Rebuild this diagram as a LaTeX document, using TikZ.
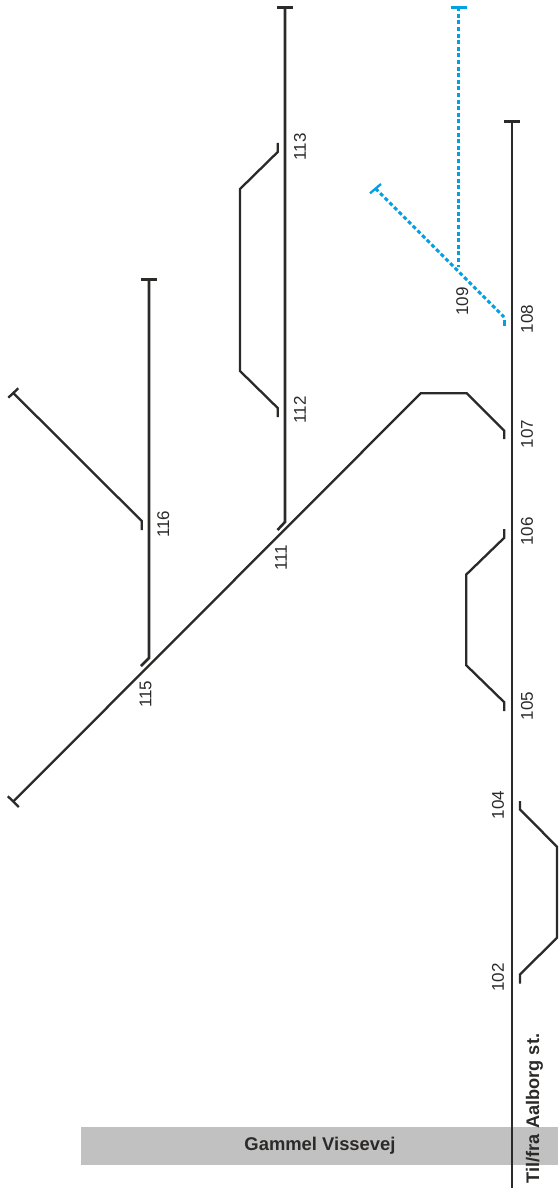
\documentclass[tikz,border=0pt]{standalone}
\usepackage{fontspec}
\setmainfont{Liberation Sans}
\definecolor{ink}{HTML}{2B2A29}
\definecolor{rail}{HTML}{00A0E3}
\definecolor{road}{HTML}{C1C1C1}
\tikzset{
  track/.style={draw=ink,line width=2.3pt,line join=miter},
  mainline/.style={draw=ink,line width=2.6pt},
  endtick/.style={draw=ink,line width=3pt},
  plannedtrack/.style={draw=rail,line width=3pt,dash pattern=on 4pt off 2.6pt},
  plannedsolid/.style={draw=rail,line width=3pt},
  lab/.style={rotate=90,text=ink,font=\fontsize{17}{17}\selectfont,inner sep=0pt,anchor=center},
  boldlab/.style={rotate=90,text=ink,font=\fontsize{18.2}{18.2}\selectfont\bfseries,inner sep=0pt,anchor=center},
}
\begin{document}
\begin{tikzpicture}[x=1pt,y=-1pt]
\useasboundingbox (0,0) rectangle (558,1190);
% road
\fill[road] (81,1127) rectangle (558,1165);
\node[text=ink,font=\fontsize{18.4}{18.4}\selectfont\bfseries,inner sep=0pt] (road) at (320,1146) {Gammel Vissevej};
% main line
\draw[mainline] (512,122) -- (512,1188);
\draw[endtick] (504,122) -- (520,122);
% 102-104 loop
\draw[track] (520,801) -- (520,809.5) -- (557,846.7) -- (557,937.7) -- (520,974.5) -- (520,983.5);
% 105-106 loop
\draw[track] (504.3,529) -- (504.3,537.7) -- (466.3,574.5) -- (466.3,665.3) -- (504.3,702.3) -- (504.3,711);
% long diagonal with 107
\draw[track] (504.3,439) -- (504.3,430.7) -- (466.7,393.2) -- (420.8,393.2) -- (13.3,801.5);
\draw[track] (7.8,796.2) -- (18.8,807);
% track 111-113
\draw[endtick] (277,7.5) -- (293,7.5);
\draw[mainline] (285,7.5) -- (285,522) -- (277.5,530);
% loop 112-113
\draw[track] (277.7,143) -- (277.7,152) -- (240,189) -- (240,371) -- (277.7,408) -- (277.7,417);
% track 115-116
\draw[endtick] (141,279.5) -- (157,279.5);
\draw[mainline] (149,279.5) -- (149,658) -- (141,666);
% branch 116
\draw[track] (141.7,530) -- (141.7,521) -- (13.3,393);
\draw[track] (8.3,397.7) -- (18.3,388.3);
% planned tracks
\draw[plannedsolid] (451,7.3) -- (467,7.3);
\draw[plannedtrack] (458.5,7.3) -- (458.5,267);
\draw[plannedsolid,line width=2.3pt] (370,193.3) -- (381,184);
\draw[plannedtrack] (375.5,188.5) -- (504,317);
\draw[plannedsolid] (504.3,320) -- (504.3,326);
% labels
\node[lab] (n102) at (498,977.7) {102};
\node[lab] (n104) at (498,805) {104};
\node[lab] (n105) at (527,706) {105};
\node[lab] (n106) at (527,531.7) {106};
\node[lab] (n107) at (527,434) {107};
\node[lab] (n108) at (527,319) {108};
\node[lab] (n109) at (462.3,301.7) {109};
\node[lab] (n111) at (281,557.7) {111};
\node[lab] (n112) at (300,410) {112};
\node[lab] (n113) at (300,146.7) {113};
\node[lab] (n115) at (145.7,694.3) {115};
\node[lab] (n116) at (163.3,524.3) {116};
\node[boldlab] (aalborg) at (534.5,1108.5) {Til/fra Aalborg st.};
\end{tikzpicture}
\end{document}
